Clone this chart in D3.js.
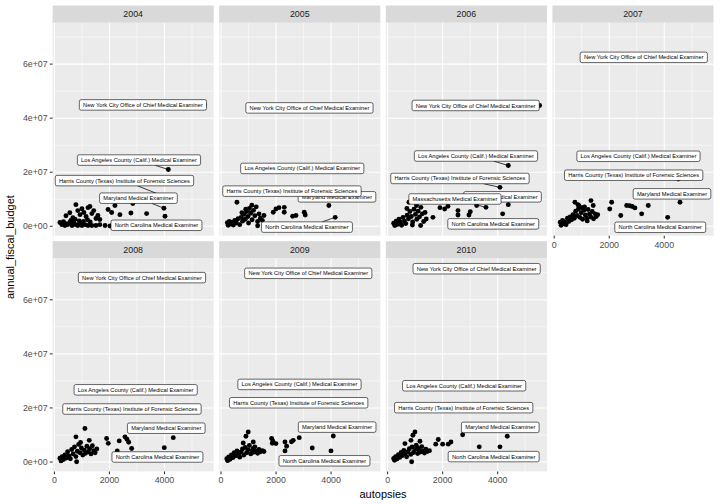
<!DOCTYPE html>
<html><head><meta charset="utf-8">
<script src="https://cdn.jsdelivr.net/npm/d3@7"></script>
<style>body{margin:0;background:#fff}svg{display:block}text{font-family:"Liberation Sans",Arial,Helvetica,sans-serif}</style>
</head><body><svg id="chart" width="720" height="504"></svg>
<script>
const years = [2004, 2005, 2006, 2007, 2008, 2009, 2010];
const xTicks = [0, 2000, 4000];
const xTickLabels = ["0", "2000", "4000"];
const yTicks = [0, 2e7, 4e7, 6e7];
const yTickLabels = ["0e+00", "2e+07", "4e+07", "6e+07"];
const xMinor = [1000, 3000, 5000];
const yMinor = [1e7, 3e7, 5e7, 7e7];

// label draw order
const offices = ["Maryland Medical Examiner", "Massachusetts Medical Examiner", "North Carolina Medical Examiner",
  "Harris County (Texas) Institute of Forensic Sciences", "Los Angeles County (Calif.) Medical Examiner",
  "New York City Office of Chief Medical Examiner"];

// unlabeled offices: [autopsies, annual_fiscal_budget]
const points2004 = [[200,1.4e6],[270,0.6e6],[330,1.7e6],[380,0.3e6],[420,1.0e6],[480,0.6e6],[560,1.4e6],[640,0.3e6],[700,1.7e6],[780,0.6e6],[850,0.3e6],[930,1.0e6],[1000,0.3e6],[1110,0.6e6],[1220,0.3e6],[1360,0.3e6],[1510,0.3e6],[1650,0.6e6],
  [420,3.9e6],[560,5.0e6],[670,3.2e6],[780,8.0e6],[850,5.8e6],[930,4.3e6],[1000,6.5e6],[1070,5.1e6],[1150,3.6e6],[1220,6.9e6],[1290,7.3e6],[1360,4.7e6],[1430,5.8e6],[1510,2.9e6],[1580,4.0e6],[1650,2.5e6],
  [600,2.2e6],[750,2.6e6],[900,2.0e6],[1050,1.8e6],[1200,2.4e6],[1300,1.6e6],
  [1840,0.3e6],[2020,0.1e6],[1950,6.2e6],[2080,5.1e6],[2200,7.7e6],[2380,4.3e6],[2780,4.9e6],[2850,8.4e6],[3350,4.7e6]];
const points2005 = [[230,1.3e6],[260,0.4e6],[300,1.8e6],[350,0.8e6],[400,1.5e6],[450,0.5e6],[500,2.2e6],[560,1.2e6],[620,2.8e6],[680,0.6e6],[730,3.3e6],[780,1.9e6],[830,4.4e6],[880,2.6e6],[930,5.5e6],[980,3.6e6],[1030,6.6e6],[1080,4.8e6],[1130,2.4e6],[1180,5.9e6],[1230,3.9e6],[1280,7.2e6],[1330,1.8e6],[1380,4.6e6],[1430,3.0e6],[1500,2.2e6],[900,6.3e6],[1000,1.2e6],[760,5.0e6],[1120,7.8e6],[1560,4.0e6],
  [578,8.9e6],[1331,0.2e6],[1898,5.2e6],[1996,6.4e6],[2105,6.9e6],[2298,7.0e6],[2298,5.2e6],[2604,3.7e6],[2724,4.0e6],[3025,5.2e6],[3061,4.2e6]];
const points2006 = [[220,1.1e6],[260,0.3e6],[310,1.9e6],[360,0.7e6],[410,2.6e6],[460,1.5e6],[510,0.4e6],[560,3.3e6],[610,2.0e6],[660,1.0e6],[710,4.1e6],[760,2.8e6],[810,5.5e6],[860,3.6e6],[910,1.6e6],[960,6.3e6],[1010,4.4e6],[1060,2.6e6],[1110,5.6e6],[1160,3.5e6],[1210,7.0e6],[1260,4.6e6],[1310,1.8e6],[1360,5.1e6],[1200,0.3e6],[900,0.5e6],[1050,7.7e6],[700,6.6e6],
  [775,8.9e6],[1404,2.7e6],[1647,3.3e6],[1902,6.9e6],[2073,6.4e6],[2193,7.4e6],[2531,0.3e6],[2557,5.8e6],[2557,4.2e6],[2957,4.2e6],[3004,5.4e6],[3236,7.7e6]];
const points2007 = [[220,1.5e6],[250,0.4e6],[300,2.2e6],[340,0.9e6],[380,1.7e6],[430,0.6e6],[480,3.0e6],[530,1.8e6],[580,3.5e6],[630,2.4e6],[680,4.3e6],[730,3.0e6],[780,5.6e6],[830,4.0e6],[880,6.4e6],[930,3.3e6],[980,5.0e6],[1030,2.6e6],[1080,5.9e6],[1130,4.2e6],[1180,3.0e6],[1230,6.2e6],[1280,4.5e6],[1330,3.4e6],[1380,5.5e6],[1430,2.8e6],[1480,4.6e6],[1530,3.6e6],[1580,4.3e6],[900,7.6e6],[1000,6.9e6],[1100,7.2e6],[1200,2.0e6],
  [753,8.9e6],[862,8.0e6],[1335,9.5e6],[1418,7.7e6],[2018,6.4e6],[2087,8.9e6],[2418,4.0e6],[2633,7.7e6],[2740,7.6e6],[2836,7.3e6],[2934,6.8e6],[3178,4.6e6],[3418,7.7e6]];
const points2008 = [[200,1.4e6],[240,0.4e6],[280,2.0e6],[330,0.9e6],[380,2.6e6],[430,1.5e6],[480,3.8e6],[530,2.2e6],[580,1.2e6],[630,4.6e6],[680,3.0e6],[730,5.6e6],[780,2.0e6],[830,4.0e6],[880,6.5e6],[930,3.4e6],[980,5.2e6],[1030,2.6e6],[1080,4.4e6],[1130,3.2e6],[1180,5.8e6],[1230,3.8e6],[1280,4.9e6],[1330,3.0e6],[1380,6.0e6],[1430,4.2e6],[1480,3.4e6],[1540,4.8e6],[950,7.2e6],
  [782,9.3e6],[807,0.1e6],[1109,1.24e7],[1266,8.0e6],[1898,8.7e6],[1956,6.9e6],[2284,4.1e6],[2356,7.8e6],[2564,9.3e6],[2636,8.4e6],[2700,7.3e6],[2807,5.0e6]];
const points2009 = [[210,1.2e6],[240,0.5e6],[280,1.9e6],[330,1.0e6],[380,2.6e6],[430,1.6e6],[480,3.4e6],[530,2.3e6],[580,4.1e6],[630,2.9e6],[680,1.8e6],[730,3.7e6],[780,4.8e6],[830,2.6e6],[880,5.4e6],[930,3.4e6],[980,4.5e6],[1030,6.1e6],[1080,3.0e6],[1130,4.2e6],[1180,3.6e6],[1230,5.6e6],[1280,4.0e6],[1330,3.2e6],[1380,4.6e6],[1430,3.8e6],[1500,4.2e6],[1560,3.9e6],
  [807,7.0e6],[905,9.5e6],[989,1.11e7],[1171,7.4e6],[1171,5.0e6],[1840,8.7e6],[1865,6.9e6],[1887,7.7e6],[1996,6.8e6],[2324,7.4e6],[2324,4.1e6],[2385,5.8e6],[2560,7.5e6],[2625,8.0e6],[2843,9.0e6],[3316,5.2e6]];
const points2010 = [[220,1.3e6],[250,0.6e6],[290,2.0e6],[340,1.1e6],[390,2.7e6],[440,1.7e6],[490,3.5e6],[540,2.4e6],[590,4.3e6],[640,3.0e6],[690,1.9e6],[740,3.8e6],[790,4.9e6],[840,2.8e6],[890,5.6e6],[940,3.5e6],[990,4.6e6],[1040,6.2e6],[1090,3.1e6],[1140,4.3e6],[1190,3.7e6],[1240,5.7e6],[1290,4.1e6],[1340,3.3e6],[1390,4.7e6],[1440,3.9e6],[1520,4.2e6],
  [629,6.8e6],[848,8.0e6],[873,0.1e6],[920,9.9e6],[993,1.11e7],[1102,5.1e6],[1175,7.7e6],[1749,6.6e6],[1840,8.3e6],[2000,6.6e6],[2204,6.6e6],[2302,7.4e6],[2727,1.01e7],[3331,5.6e6]];

// labelled offices: [office, autopsies, budget]
const labeled2004 = [["Maryland Medical Examiner",3980,6.7e6],["North Carolina Medical Examiner",4020,3.7e6],["Harris County (Texas) Institute of Forensic Sciences",4270,9.9e6],["Los Angeles County (Calif.) Medical Examiner",4140,2.1e7],["New York City Office of Chief Medical Examiner",5450,4.5e7]];
const labeled2005 = [["Maryland Medical Examiner",3920,7.7e6],["North Carolina Medical Examiner",4150,3.3e6],["Harris County (Texas) Institute of Forensic Sciences",4050,1.2e7],["Los Angeles County (Calif.) Medical Examiner",4150,2.1e7],["New York City Office of Chief Medical Examiner",5200,4.4e7]];
const labeled2006 = [["Maryland Medical Examiner",4385,8.0e6],["Massachusetts Medical Examiner",3574,7.0e6],["North Carolina Medical Examiner",4181,4.6e6],["Harris County (Texas) Institute of Forensic Sciences",4083,1.44e7],["Los Angeles County (Calif.) Medical Examiner",4385,2.25e7],["New York City Office of Chief Medical Examiner",5523,4.47e7]];
const labeled2007 = [["Maryland Medical Examiner",4571,8.9e6],["North Carolina Medical Examiner",4123,3.3e6],["Harris County (Texas) Institute of Forensic Sciences",4509,1.75e7],["Los Angeles County (Calif.) Medical Examiner",4300,2.6e7],["New York City Office of Chief Medical Examiner",5300,6.25e7]];
const labeled2008 = [["Maryland Medical Examiner",4320,9.0e6],["North Carolina Medical Examiner",3993,5.3e6],["Harris County (Texas) Institute of Forensic Sciences",4500,1.96e7],["Los Angeles County (Calif.) Medical Examiner",4200,2.67e7],["New York City Office of Chief Medical Examiner",5300,6.82e7]];
const labeled2009 = [["Maryland Medical Examiner",4080,9.6e6],["North Carolina Medical Examiner",3996,4.1e6],["Harris County (Texas) Institute of Forensic Sciences",4400,2.19e7],["Los Angeles County (Calif.) Medical Examiner",4200,2.87e7],["New York City Office of Chief Medical Examiner",5300,6.98e7]];
const labeled2010 = [["Maryland Medical Examiner",4349,9.5e6],["North Carolina Medical Examiner",4083,5.6e6],["Harris County (Texas) Institute of Forensic Sciences",4400,2.01e7],["Los Angeles County (Calif.) Medical Examiner",4200,2.82e7],["New York City Office of Chief Medical Examiner",5300,7.17e7]];

// repelled label centres (data units), same order as labelled arrays
const anchors2004 = [[3054,1.04e7],[3709,0.37e6],[2545,1.69e7],[3073,2.45e7],[3218,4.49e7]];
const anchors2005 = [[4214,1.09e7],[3123,-0.3e6],[2578,1.30e7],[2953,2.14e7],[3214,4.38e7]];
const anchors2006 = [[4174,1.09e7],[2447,1.01e7],[3840,0.9e6],[2629,1.77e7],[3211,2.60e7],[3200,4.47e7]];
const anchors2007 = [[4280,1.20e7],[3854,-0.37e6],[2887,1.89e7],[3062,2.59e7],[3254,6.25e7]];
const anchors2008 = [[4065,1.25e7],[3745,1.85e6],[2818,1.96e7],[2953,2.67e7],[3182,6.82e7]];
const anchors2009 = [[4221,1.29e7],[3760,0.44e6],[2822,2.19e7],[2851,2.87e7],[3171,6.98e7]];
const anchors2010 = [[4094,1.28e7],[3854,2.0e6],[2764,2.01e7],[2782,2.82e7],[3236,7.15e7]];

const pointsByYear = {2004:points2004,2005:points2005,2006:points2006,2007:points2007,2008:points2008,2009:points2009,2010:points2010};
const labeledByYear = {2004:labeled2004,2005:labeled2005,2006:labeled2006,2007:labeled2007,2008:labeled2008,2009:labeled2009,2010:labeled2010};
const anchorsByYear = {2004:anchors2004,2005:anchors2005,2006:anchors2006,2007:anchors2007,2008:anchors2008,2009:anchors2009,2010:anchors2010};

// ---- layout ----
const svg = d3.select("#chart");
const ncol = 4, panelLeft = 52.6, panelW = 161.1, gap = 5.5;
const stripTop = 5.5, stripH = 17.3, panelH = 212.9;
const rowTop = r => stripTop + r * (stripH + panelH + gap);

const allX = [], allY = [];
years.forEach(yr => {
  pointsByYear[yr].forEach(d => { allX.push(d[0]); allY.push(d[1]); });
  labeledByYear[yr].forEach(d => { allX.push(d[1]); allY.push(d[2]); });
});
const xe = d3.extent(allX), ye = d3.extent(allY);
const xr = xe[1] - xe[0], yr_ = ye[1] - ye[0];
const x = d3.scaleLinear().domain([xe[0] - 0.05 * xr, xe[1] + 0.05 * xr]).range([0, panelW]);
const y = d3.scaleLinear().domain([ye[0] - 0.05 * yr_, ye[1] + 0.05 * yr_]).range([panelH, 0]);

const fontLab = 5.69, padX = 3.75, boxH = 10.5;

years.forEach((yr, i) => {
  const col = i % ncol, row = Math.floor(i / ncol);
  const px0 = panelLeft + col * (panelW + gap);
  const sTop = rowTop(row);
  const pTop = sTop + stripH;
  // strip
  svg.append("rect").attr("x", px0).attr("y", sTop).attr("width", panelW).attr("height", stripH).attr("fill", "#D9D9D9");
  svg.append("text").attr("x", px0 + panelW / 2).attr("y", sTop + stripH / 2 + 3.1)
    .attr("text-anchor", "middle").attr("font-size", 8.8).attr("fill", "#1A1A1A").text(yr);
  const g = svg.append("g").attr("transform", `translate(${px0},${pTop})`);
  g.append("rect").attr("width", panelW).attr("height", panelH).attr("fill", "#EBEBEB");
  // minor grid
  g.selectAll(".xm").data(xMinor).join("line").attr("x1", d => x(d)).attr("x2", d => x(d)).attr("y1", 0).attr("y2", panelH).attr("stroke", "#fff").attr("stroke-width", 0.53);
  g.selectAll(".ym").data(yMinor).join("line").attr("y1", d => y(d)).attr("y2", d => y(d)).attr("x1", 0).attr("x2", panelW).attr("stroke", "#fff").attr("stroke-width", 0.53);
  g.selectAll(".xM").data(xTicks).join("line").attr("x1", d => x(d)).attr("x2", d => x(d)).attr("y1", 0).attr("y2", panelH).attr("stroke", "#fff").attr("stroke-width", 1.07);
  g.selectAll(".yM").data(yTicks).join("line").attr("y1", d => y(d)).attr("y2", d => y(d)).attr("x1", 0).attr("x2", panelW).attr("stroke", "#fff").attr("stroke-width", 1.07);
  // points
  const pts = pointsByYear[yr].map(d => ({a: d[0], b: d[1]})).concat(labeledByYear[yr].map(d => ({a: d[1], b: d[2]})));
  g.selectAll(".pt").data(pts).join("circle").attr("cx", d => x(d.a)).attr("cy", d => y(d.b)).attr("r", 2.45).attr("fill", "#000");
  // labels
  const labs = labeledByYear[yr].map((d, k) => ({name: d[0], px: x(d[1]), py: y(d[2]), cx: x(anchorsByYear[yr][k][0]), cy: y(anchorsByYear[yr][k][1])}));
  labs.sort((p, q) => offices.indexOf(p.name) - offices.indexOf(q.name));
  const segG = g.append("g"), labG = g.append("g");
  labs.forEach(L => {
    const lg = labG.append("g");
    const rect = lg.append("rect");
    const t = lg.append("text").attr("x", L.cx).attr("y", L.cy + 2.05).attr("text-anchor", "middle")
      .attr("font-size", fontLab).attr("fill", "#000").text(L.name);
    const w = t.node().getComputedTextLength() + 2 * padX;
    rect.attr("x", L.cx - w / 2).attr("y", L.cy - boxH / 2).attr("width", w).attr("height", boxH)
      .attr("rx", 1.8).attr("fill", "#fff").attr("stroke", "#000").attr("stroke-width", 0.6);
    // segment from point to box edge along the line to the centre
    const dx = L.px - L.cx, dy = L.py - L.cy;
    const hw = w / 2, hh = boxH / 2;
    const inside = Math.abs(dx) <= hw && Math.abs(dy) <= hh;
    if (!inside) {
      const s = Math.min(dx !== 0 ? hw / Math.abs(dx) : Infinity, dy !== 0 ? hh / Math.abs(dy) : Infinity);
      const ex = L.cx + dx * s, ey = L.cy + dy * s;
      const len = Math.hypot(L.px - ex, L.py - ey);
      if (len > 7) {
        segG.append("line").attr("x1", ex).attr("y1", ey).attr("x2", L.px).attr("y2", L.py)
          .attr("stroke", "#000").attr("stroke-width", 0.75);
      }
    }
  });
  // axes
  const isBottom = row === 1 || (row === 0 && i + ncol >= years.length);
  if (isBottom) {
    const ax = g.append("g").attr("transform", `translate(0,${panelH})`);
    xTicks.forEach((v, k) => {
      ax.append("line").attr("x1", x(v)).attr("x2", x(v)).attr("y1", 0).attr("y2", 2.75).attr("stroke", "#333").attr("stroke-width", 1.07);
      ax.append("text").attr("x", x(v)).attr("y", 11.9).attr("text-anchor", "middle").attr("font-size", 8.8).attr("fill", "#4D4D4D").text(xTickLabels[k]);
    });
  }
  if (col === 0) {
    yTicks.forEach((v, k) => {
      g.append("line").attr("x1", -2.75).attr("x2", 0).attr("y1", y(v)).attr("y2", y(v)).attr("stroke", "#333").attr("stroke-width", 1.07);
      g.append("text").attr("x", -4.95).attr("y", y(v) + 3.1).attr("text-anchor", "end").attr("font-size", 8.8).attr("fill", "#4D4D4D").text(yTickLabels[k]);
    });
  }
});

// axis titles
const totalW = ncol * panelW + (ncol - 1) * gap;
svg.append("text").attr("x", panelLeft + totalW / 2).attr("y", 498).attr("text-anchor", "middle").attr("font-size", 11).attr("fill", "#000").text("autopsies");
const plotTop = stripTop, plotBot = rowTop(1) + stripH + panelH;
svg.append("text").attr("transform", `translate(14,${(plotTop + stripH + plotBot) / 2}) rotate(-90)`).attr("text-anchor", "middle").attr("font-size", 11).attr("fill", "#000").text("annual_fiscal_budget");
</script>
</body></html>
